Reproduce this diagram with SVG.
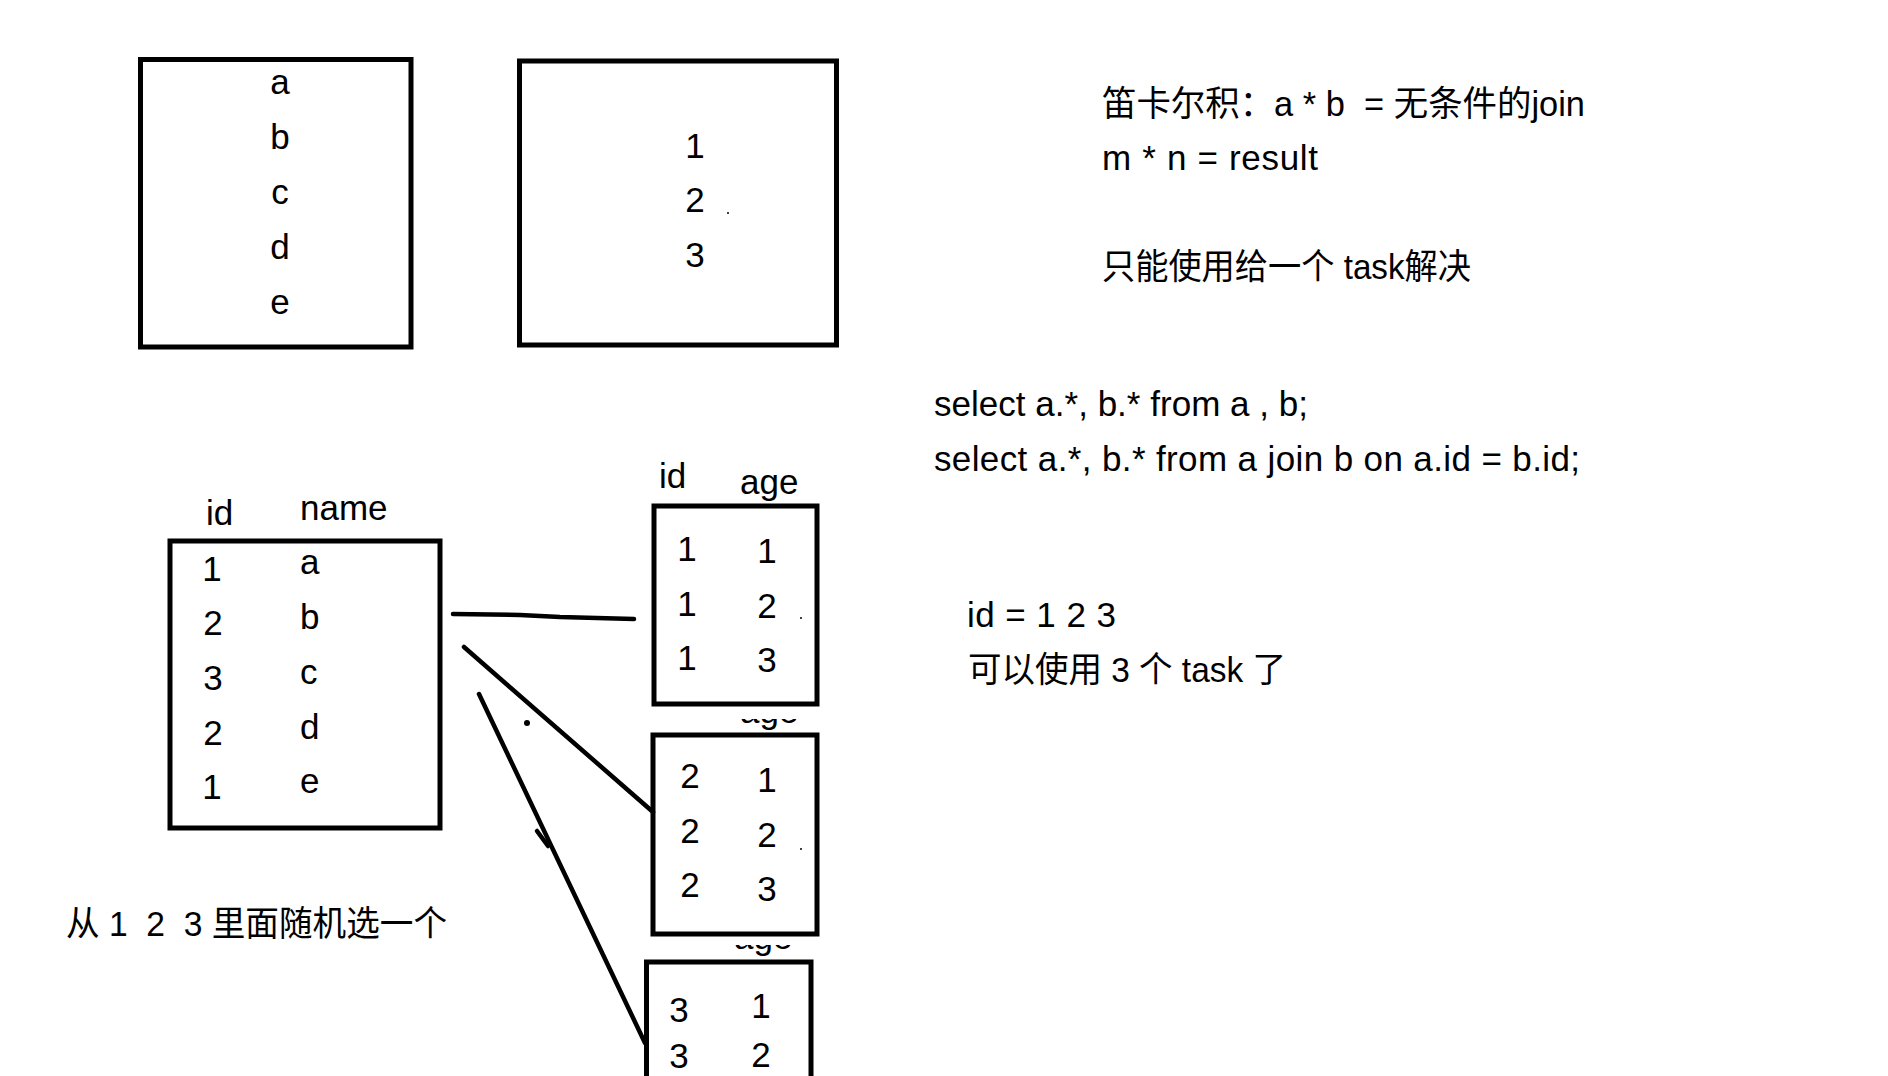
<svg xmlns="http://www.w3.org/2000/svg" width="1888" height="1076" viewBox="0 0 1888 1076">
  <style>
    text { font-family: "Liberation Sans", "Noto Sans CJK SC", sans-serif; font-size: 35px; fill: #000; white-space: pre; }
    .box { fill: none; stroke: #000; stroke-width: 5; }
    .c { text-anchor: middle; }
    .wire { fill: none; stroke: #000; stroke-width: 4.5; stroke-linecap: round; stroke-linejoin: round; }
  </style>
  <defs>
    <clipPath id="clipAge2"><rect x="720" y="719" width="100" height="14"/></clipPath>
    <clipPath id="clipAge3"><rect x="715" y="945" width="100" height="14"/></clipPath>
  </defs>
  <rect width="1888" height="1076" fill="#fff"/>

  <g id="boxA">
    <rect class="box" x="140.5" y="59.5" width="270.5" height="287.5"/>
    <text class="c" x="280" y="94">a</text>
    <text class="c" x="280" y="149">b</text>
    <text class="c" x="280" y="204">c</text>
    <text class="c" x="280" y="259">d</text>
    <text class="c" x="280" y="314">e</text>
  </g>

  <g id="boxB">
    <rect class="box" x="519.5" y="61" width="317" height="284"/>
    <text class="c" x="695" y="158">1</text>
    <text class="c" x="695" y="212">2</text>
    <text class="c" x="695" y="267">3</text>
    <circle cx="728" cy="213" r="1"/>
  </g>

  <g id="notes">
    <text x="1102" y="116" textLength="483" lengthAdjust="spacingAndGlyphs">笛卡尔积：a * b  = 无条件的join</text>
    <text x="1102" y="170" textLength="216">m * n = result</text>
    <text x="1102" y="279" textLength="369" lengthAdjust="spacingAndGlyphs">只能使用给一个 task解决</text>
    <text x="934" y="416" textLength="374">select a.*, b.* from a , b;</text>
    <text x="934" y="471" textLength="646">select a.*, b.* from a join b on a.id = b.id;</text>
    <text x="967" y="627" textLength="149">id = 1 2 3</text>
    <text x="968" y="682" textLength="318" lengthAdjust="spacingAndGlyphs">可以使用 3 个 task 了</text>
    <text x="66" y="936" textLength="381" lengthAdjust="spacingAndGlyphs">从 1  2  3 里面随机选一个</text>
  </g>

  <g id="tableName">
    <text x="206" y="525">id</text>
    <text x="300" y="520">name</text>
    <rect class="box" x="170" y="541" width="270" height="287"/>
    <text class="c" x="212" y="581">1</text>
    <text class="c" x="213" y="635">2</text>
    <text class="c" x="213" y="690">3</text>
    <text class="c" x="213" y="745">2</text>
    <text class="c" x="212" y="799">1</text>
    <text x="300" y="574">a</text>
    <text x="300" y="629">b</text>
    <text x="300" y="684">c</text>
    <text x="300" y="739">d</text>
    <text x="300" y="793">e</text>
  </g>

  <g id="tableAge1">
    <text x="659" y="488">id</text>
    <text x="740" y="494">age</text>
    <rect class="box" x="654" y="506" width="163" height="198"/>
    <text class="c" x="687" y="561">1</text>
    <text class="c" x="687" y="616">1</text>
    <text class="c" x="687" y="670">1</text>
    <text class="c" x="767" y="563">1</text>
    <text class="c" x="767" y="618">2</text>
    <text class="c" x="767" y="672">3</text>
    <circle cx="801" cy="618" r="1"/>
  </g>

  <g id="tableAge2">
    <text x="740" y="723" clip-path="url(#clipAge2)">age</text>
    <rect class="box" x="653" y="735" width="164" height="199"/>
    <text class="c" x="690" y="788">2</text>
    <text class="c" x="690" y="843">2</text>
    <text class="c" x="690" y="897">2</text>
    <text class="c" x="767" y="792">1</text>
    <text class="c" x="767" y="847">2</text>
    <text class="c" x="767" y="901">3</text>
    <circle cx="801" cy="849" r="1"/>
  </g>

  <g id="tableAge3">
    <text x="734" y="949" clip-path="url(#clipAge3)">age</text>
    <rect class="box" x="646.5" y="962" width="164.5" height="130"/>
    <text class="c" x="679" y="1022">3</text>
    <text class="c" x="679" y="1068">3</text>
    <text class="c" x="761" y="1018">1</text>
    <text class="c" x="761" y="1067">2</text>
  </g>

  <g id="connectors">
    <path class="wire" d="M453,614 L520,615 L560,617 L634,619"/>
    <path class="wire" d="M464,647 L653,812"/>
    <path class="wire" d="M479,694 L645,1043"/>
    <path class="wire" d="M537,831 L548,846"/>
    <circle cx="527" cy="723" r="3"/>
  </g>
</svg>
